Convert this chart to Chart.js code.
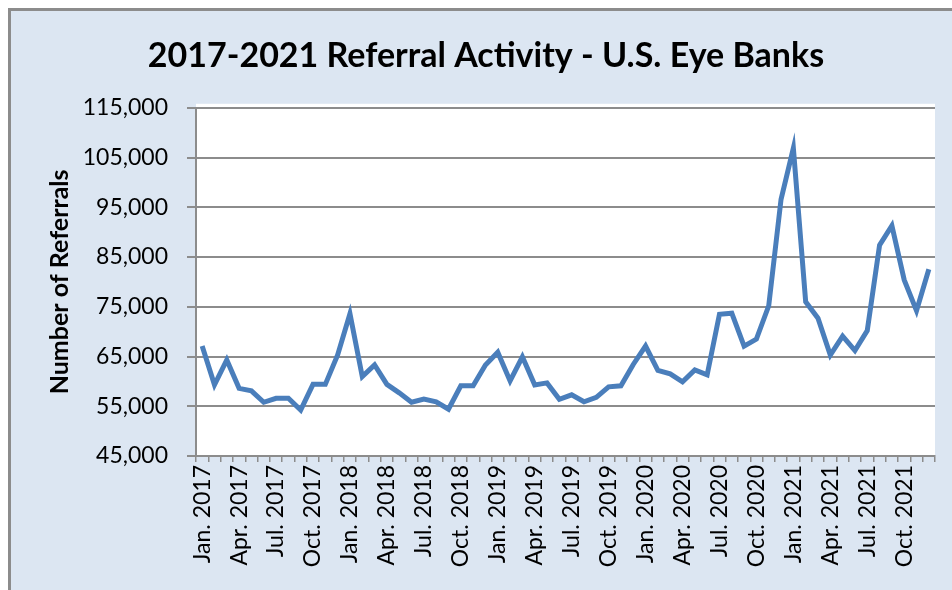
<!DOCTYPE html>
<html>
<head>
<meta charset="utf-8">
<script src="https://cdn.jsdelivr.net/npm/chart.js@4.4.1/dist/chart.umd.min.js"></script>
<style>
  body { margin: 0; background: #ffffff; }
  #frame {
    position: absolute; left: 8px; top: 8px;
    width: 941px; height: 579px;
    border-left: 3px solid #8c8c8c; border-top: 3px solid #8c8c8c;
    background: #dce6f2;
  }
  canvas { display: block; }
</style>
</head>
<body>
<div id="frame"><canvas id="referralChart" width="941" height="579"></canvas></div>
<script>
// 월별 라벨 (2017-2021)
const years = ['2017', '2018', '2019', '2020', '2021'];
const monthNames = ['Jan.', 'Feb.', 'Mar.', 'Apr.', 'May', 'Jun.', 'Jul.', 'Aug.', 'Sep.', 'Oct.', 'Nov.', 'Dec.'];
const months = [];
for (const y of years) {
    for (const m of monthNames) months.push(m + ' ' + y);
}

// 월별 의뢰 건수
const referrals2017 = [67100, 59300, 64300, 58600, 58100, 55800, 56600, 56600, 54250, 59400, 59400, 65300];
const referrals2018 = [73600, 60950, 63300, 59400, 57700, 55800, 56450, 55900, 54400, 59100, 59100, 63300];
const referrals2019 = [65850, 60100, 64950, 59300, 59700, 56400, 57300, 55900, 56800, 58900, 59100, 63400];
const referrals2020 = [67100, 62200, 61500, 59900, 62300, 61300, 73500, 73700, 67100, 68500, 75200, 96600];
const referrals2021 = [106900, 76000, 72700, 65300, 69100, 66200, 70200, 87400, 91300, 80400, 74200, 82550];
const referrals = [].concat(referrals2017, referrals2018, referrals2019, referrals2020, referrals2021);

// 축 설정
const yMin = 45000;
const yMax = 115000;
const yStep = 10000;

// 차트 영역 흰 배경
const plotBackground = {
    id: 'plotBackground',
    beforeDraw(chart) {
        const { ctx, chartArea } = chart;
        ctx.save();
        ctx.fillStyle = '#ffffff';
        ctx.fillRect(chartArea.left, chartArea.top - 4, chartArea.right - chartArea.left, chartArea.bottom - chartArea.top + 4);
        ctx.restore();
    }
};

const ctx = document.getElementById('referralChart');
new Chart(ctx, {
    type: 'line',
    data: {
        labels: months,
        datasets: [{
            label: 'Referrals',
            data: referrals,
            borderColor: '#4a7ebb',
            borderWidth: 5,
            pointRadius: 0,
            tension: 0,
            fill: false
        }]
    },
    options: {
        responsive: false,
        animation: false,
        devicePixelRatio: 1,
        layout: { padding: { left: 26, right: 17, top: 0, bottom: 0 } },
        plugins: {
            legend: { display: false },
            tooltip: { enabled: false },
            title: {
                display: true,
                text: '2017-2021 Referral Activity - U.S. Eye Banks',
                color: '#000000',
                font: { family: 'Lato', size: 34, weight: 'bold' },
                padding: { top: 25, bottom: 31 }
            }
        },
        scales: {
            x: {
                offset: true,
                grid: {
                    drawOnChartArea: false,
                    offset: true,
                    color: '#8c8c8c',
                    lineWidth: 1.5,
                    tickLength: 6
                },
                border: { display: true, color: '#8c8c8c', width: 2 },
                ticks: {
                    autoSkip: false,
                    minRotation: 90,
                    maxRotation: 90,
                    padding: 3,
                    color: '#000000',
                    font: { family: 'Lato', size: 23 },
                    callback: function (value, index) {
                        return index % 3 === 0 ? months[index] : '';
                    }
                },
                afterFit: function (scale) {
                    scale.height = 134;
                    scale.paddingLeft = 0;
                    scale.paddingRight = 0;
                }
            },
            y: {
                min: yMin,
                max: yMax,
                grid: {
                    color: '#8c8c8c',
                    lineWidth: 2,
                    tickLength: 9
                },
                border: { display: true, color: '#8c8c8c', width: 2 },
                ticks: {
                    stepSize: yStep,
                    padding: 19,
                    color: '#000000',
                    font: { family: 'Lato', size: 23 },
                    callback: function (value) { return value.toLocaleString('en-US'); }
                },
                title: {
                    display: true,
                    text: 'Number of Referrals',
                    color: '#000000',
                    font: { family: 'Lato', size: 25, weight: 'bold' },
                    padding: { top: 8, bottom: 0 }
                },
                afterFit: function (scale) { scale.width = 159; }
            }
        }
    },
    plugins: [plotBackground]
});
</script>
</body>
</html>
